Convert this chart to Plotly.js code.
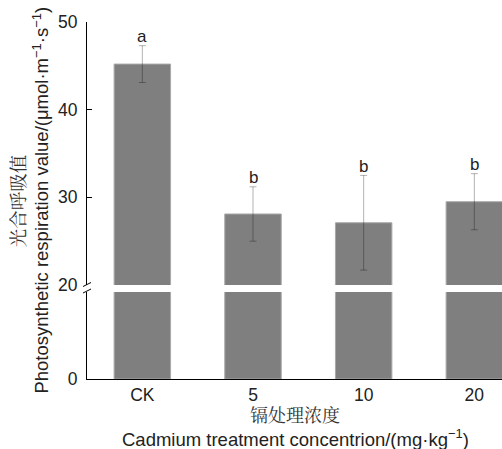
<!DOCTYPE html>
<html>
<head>
<meta charset="utf-8">
<script src="https://cdn.plot.ly/plotly-3.0.1.min.js"></script>
<style>html,body{margin:0;padding:0;background:#fff;}#chart{width:502px;height:449px;}</style>
</head>
<body>
<div id="chart"></div>
<script>
var categories = ['CK', '5', '10', '20'];
var values = [45.2, 28.1, 27.1, 29.5];
var errors = [2.1, 3.1, 5.4, 3.2];
var letters = ['a', 'b', 'b', 'b'];

var xIdx = categories.map(function (c, i) { return i; });
var barColor = '#7f7f7f';
var barLine = {color: '#a8a8a8', width: 1};

var lower = {
  type: 'bar', x: xIdx, y: values, xaxis: 'x', yaxis: 'y',
  marker: {color: barColor, line: barLine}, width: 0.51,
  hoverinfo: 'skip', showlegend: false
};
var upper = {
  type: 'bar', x: xIdx, y: values, xaxis: 'x', yaxis: 'y2',
  marker: {color: barColor, line: barLine}, width: 0.51,
  error_y: {type: 'data', array: errors, visible: true, color: 'rgba(0,0,0,0.3)', thickness: 1, width: 3.5},
  hoverinfo: 'skip', showlegend: false
};

var font = 'Liberation Sans, Arial, sans-serif';
var cjk = 'Noto Serif CJK SC, Noto Sans CJK SC, serif';

var annotations = letters.map(function (t, i) {
  return {x: i, y: values[i] + errors[i], xref: 'x', yref: 'y2', text: t, showarrow: false,
    xanchor: 'center', yanchor: 'middle', yshift: 9, font: {family: font, size: 17, color: '#222'}};
});
annotations.push(
  {xref: 'paper', yref: 'paper', x: -0.169, y: 0.5, text: '光合呼吸值', textangle: -90, showarrow: false,
   xanchor: 'center', yanchor: 'middle', font: {family: cjk, size: 18.5, color: '#333'}},
  {xref: 'paper', yref: 'paper', x: -0.113, y: 0.5,
   text: 'Photosynthetic respiration value/(μmol·m<sup>−1</sup>·s<sup>−1</sup>)', textangle: -90, showarrow: false,
   xanchor: 'center', yanchor: 'middle', font: {family: font, size: 18.5, color: '#222'}},
  {xref: 'paper', yref: 'paper', x: 0.501, y: -0.099, text: '镉处理浓度', showarrow: false,
   xanchor: 'center', yanchor: 'middle', font: {family: cjk, size: 18, color: '#333'}},
  {xref: 'paper', yref: 'paper', x: 0.503, y: -0.165,
   text: 'Cadmium treatment concentrion/(mg·kg<sup>−1</sup>)', showarrow: false,
   xanchor: 'center', yanchor: 'middle', font: {family: font, size: 18.5, color: '#222'}}
);

// plot area: x 87..502 (415px), y 22..379 (357px)
function px(x) { return (x - 87) / 415; }
function py(y) { return (379 - y) / 357; }
var shapes = [
  {type: 'line', xref: 'paper', yref: 'paper', x0: px(83), y0: py(286.5), x1: px(91), y1: py(282.5), line: {color: '#000', width: 1}},
  {type: 'line', xref: 'paper', yref: 'paper', x0: px(83), y0: py(293), x1: px(91), y1: py(289), line: {color: '#000', width: 1}}
];

var layout = {
  width: 502, height: 449,
  margin: {l: 87, r: 0, t: 22, b: 70, pad: 0},
  paper_bgcolor: '#fff', plot_bgcolor: 'rgba(0,0,0,0)',
  barmode: 'overlay',
  font: {family: font, size: 17, color: '#222'},
  xaxis: {
    range: [-0.5, 3.25], tickvals: xIdx, ticktext: categories, showgrid: false, zeroline: false,
    showline: true, linecolor: '#000', linewidth: 1, ticks: '', anchor: 'y',
    tickfont: {family: font, size: 17.5, color: '#222'}, fixedrange: true
  },
  yaxis: {
    domain: [0, 87 / 357], range: [0, 20], tickvals: [0], ticktext: ['0'], showgrid: false, zeroline: false,
    showline: true, linecolor: '#000', linewidth: 1, ticks: 'inside', ticklen: 5, tickcolor: '#000',
    ticklabelstandoff: 5, anchor: 'x', tickfont: {family: font, size: 17.5, color: '#222'}
  },
  yaxis2: {
    domain: [94 / 357, 1], range: [20, 50], tickvals: [20, 30, 40, 50], showgrid: false, zeroline: false,
    showline: true, linecolor: '#000', linewidth: 1, ticks: 'inside', ticklen: 5, tickcolor: '#000',
    ticklabelstandoff: 5, anchor: 'x', tickfont: {family: font, size: 17.5, color: '#222'}
  },
  annotations: annotations,
  shapes: shapes
};

Plotly.newPlot('chart', [lower, upper], layout, {staticPlot: true, displayModeBar: false});
</script>
</body>
</html>
